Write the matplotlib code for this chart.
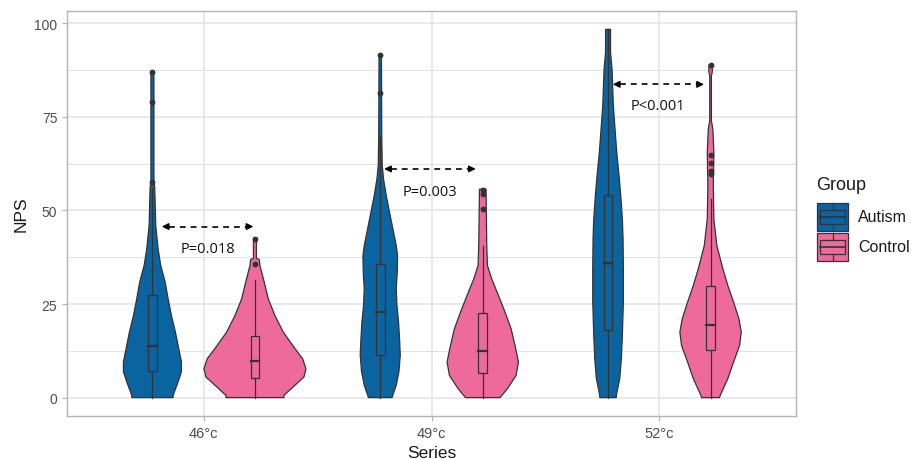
import matplotlib
matplotlib.use("Agg")
import matplotlib.pyplot as plt
import numpy as np
from matplotlib.patches import Rectangle
from matplotlib.lines import Line2D

# ---------------- data ----------------
categories = ["46°c", "49°c", "52°c"]
groups = ["Autism", "Control"]
colors = {"Autism": "#0A64A0", "Control": "#EE6A9B"}

# violin profiles: NPS levels and relative density (half-width)
a46_y = [0, 0.6, 4.2, 6.9, 9.6, 13.1, 17.5, 21.9, 26.4, 30.9, 35.3, 39.7, 46, 56.3, 57.5, 70, 87]
a46_d = [20.7, 20.7, 25.7, 29, 29, 26.3, 23, 19, 15.7, 12.7, 8.3, 5.7, 3.3, 2.3, 1.5, 1.5, 1.5]
c46_y = [0, 0.6, 3.3, 5.5, 7.7, 10.4, 13.1, 17.5, 21.9, 26.4, 30.8, 35.3, 36.9, 37.2, 42.6]
c46_d = [29, 29, 40, 49, 51, 47.7, 40, 28.3, 20, 13.3, 9.3, 5, 4.3, 1.5, 1.5]
a49_y = [0, 0.2, 3.3, 6.9, 11.3, 15.7, 20.2, 24.6, 29, 33.5, 37.9, 40.6, 45, 49.5, 54, 58.4, 62, 70, 91.6]
a49_d = [12, 12, 16, 18.7, 20, 19.3, 18.3, 16.7, 16, 17, 17.3, 16, 12.7, 9.3, 6, 3.3, 2, 1.5, 1.2]
c49_y = [0, 2.4, 5.9, 9.5, 13.9, 18.4, 22.8, 27.3, 31.7, 35.3, 40.6, 55.7]
c49_d = [17.3, 24.7, 33.3, 35.7, 32.3, 28.3, 22.3, 15.7, 9, 4.7, 4, 3.3]
a52_y = [0, 0.6, 5.1, 10.4, 16.6, 25.5, 34.4, 42.4, 47.7, 54, 59.3, 65.5, 71.7, 78, 87.7, 92.2, 98.4]
a52_d = [8.3, 8.3, 11.7, 13.3, 14.3, 15.3, 15.3, 15, 14.3, 12.7, 11, 8.7, 7, 5.3, 4, 2.5, 2.5]
c52_y = [0, 0.6, 5.1, 9.5, 13.9, 17.5, 21.1, 25.5, 29.9, 34.4, 40.6, 47.7, 56.6, 65.5, 71.7, 74, 86, 87, 88.9]
c52_d = [9, 9.7, 17.3, 23, 29, 30.7, 28.3, 23, 17.3, 12.3, 6.3, 3.3, 2.7, 3.3, 2.3, 0.8, 0.8, 1.7, 1.7]

# box statistics: (q1, median, q3, whisker low, whisker high)
a46_box = (7.0, 13.7, 27.3, 0, 56)
c46_box = (5.2, 9.8, 16.4, 0, 31.3)
a49_box = (11.5, 22.8, 35.7, 0, 70)
c49_box = (6.6, 12.4, 22.7, 0, 40.6)
a52_box = (18, 35.9, 54, 0, 98.4)
c52_box = (12.8, 19.5, 29.7, 0, 53)

a46_out = [57.5, 79, 87]
c46_out = [35.7, 42.4]
a49_out = [81.5, 91.6]
c49_out = [50.4, 54.4, 55.5]
a52_out = []
c52_out = [59.7, 60.6, 62.6, 64.8, 88.9]

# significance annotations
p_labels = ["P=0.018", "P=0.003", "P<0.001"]
p_arrow_y = [45.7, 61.1, 83.7]
p_arrow_x0 = [0.816, 1.792, 2.796]
p_arrow_x1 = [1.218, 2.194, 3.196]
p_text_y = [39.9, 55.1, 78.0]

violins = {
    ("Autism", 0): (a46_y, a46_d, a46_box, a46_out),
    ("Control", 0): (c46_y, c46_d, c46_box, c46_out),
    ("Autism", 1): (a49_y, a49_d, a49_box, a49_out),
    ("Control", 1): (c49_y, c49_d, c49_box, c49_out),
    ("Autism", 2): (a52_y, a52_d, a52_box, a52_out),
    ("Control", 2): (c52_y, c52_d, c52_box, c52_out),
}

# ---------------- style ----------------
plt.rcParams["font.family"] = ["Liberation Sans", "DejaVu Sans"]
OUT = "#333333"
GRID = "#E3E3E3"
BORDER = "#B3B3B3"
TXT = "#4D4D4D"
dodge = 0.225
dens_scale = 1 / 227.8
box_half = 0.019

fig = plt.figure(figsize=(9.11, 4.60), dpi=100)
ax = fig.add_axes([67 / 911, 43 / 460, 729 / 911, 405 / 460])
ax.set_xlim(0.4, 3.6)
ax.set_ylim(-4.92, 103.3)

ax.set_yticks([0, 25, 50, 75, 100])
ax.set_yticks([12.5, 37.5, 62.5, 87.5], minor=True)
ax.set_xticks([1, 2, 3])
ax.set_xticklabels(categories)
ax.grid(True, which="major", color=GRID, lw=1.1, zorder=0)
ax.grid(True, which="minor", axis="y", color=GRID, lw=0.7, zorder=0)
ax.set_axisbelow(True)
for s in ax.spines.values():
    s.set_color(BORDER)
    s.set_linewidth(1.0)
ax.tick_params(axis="both", which="major", colors=BORDER, length=3.5, width=0.8,
               labelcolor=TXT, labelsize=10)
ax.tick_params(axis="x", which="major", labelsize=10.5)
ax.tick_params(axis="both", which="minor", length=0)
ax.set_xlabel("Series", fontsize=12.5, color="#1A1A1A", labelpad=3.5)
ax.set_ylabel("NPS", fontsize=12.5, color="#1A1A1A", labelpad=4)

for (g, i), (ys, ds, box, outs) in violins.items():
    xc = (i + 1) + (-dodge if g == "Autism" else dodge)
    ys = np.asarray(ys, float)
    hw = np.asarray(ds, float) * dens_scale
    xs = np.concatenate([xc - hw, (xc + hw)[::-1]])
    yy = np.concatenate([ys, ys[::-1]])
    ax.fill(xs, yy, facecolor=colors[g], edgecolor=OUT, lw=0.9, zorder=2)
    q1, med, q3, wlo, whi = box
    ax.plot([xc, xc], [wlo, q1], color=OUT, lw=0.9, zorder=3)
    ax.plot([xc, xc], [q3, whi], color=OUT, lw=0.9, zorder=3)
    ax.add_patch(Rectangle((xc - box_half, q1), 2 * box_half, q3 - q1,
                           facecolor="none", edgecolor=OUT, lw=0.9, zorder=3))
    ax.plot([xc - box_half, xc + box_half], [med, med], color=OUT, lw=1.6, zorder=3)
    if outs:
        ax.plot([xc] * len(outs), outs, "o", color=OUT, ms=4.2, mec="none", zorder=4)

for lab, ya, x0, x1, yt in zip(p_labels, p_arrow_y, p_arrow_x0, p_arrow_x1, p_text_y):
    d = 0.03
    ax.plot([x0 + d, x1 - d], [ya, ya], color="black", lw=1.2, ls=(0, (3.5, 3)), zorder=5)
    ax.annotate("", xy=(x0, ya), xytext=(x0 + d, ya),
                arrowprops=dict(arrowstyle="-|>", color="black", lw=1.0, mutation_scale=10,
                                shrinkA=0, shrinkB=0), zorder=5)
    ax.annotate("", xy=(x1, ya), xytext=(x1 - d, ya),
                arrowprops=dict(arrowstyle="-|>", color="black", lw=1.0, mutation_scale=10,
                                shrinkA=0, shrinkB=0), zorder=5)
    ax.text((x0 + x1) / 2, yt, lab, ha="center", va="center", fontsize=10.5,
            family=["Open Sans", "DejaVu Sans"], color="#111111", zorder=5)

# ---------------- legend ----------------
W, H = 911, 460
def fx(px):
    return px / W
def fy(py):
    return 1 - py / H

fig.text(fx(816), fy(185), "Group", fontsize=13, color="#1A1A1A", va="center", ha="left")
key_x0, key_x1 = 817, 848
key_rows = [(204, 232), (234, 262)]
for g, (t, b) in zip(groups, key_rows):
    fig.add_artist(Rectangle((fx(key_x0), fy(b)), fx(key_x1) - fx(key_x0), fy(t) - fy(b),
                             transform=fig.transFigure, facecolor=colors[g], edgecolor=OUT, lw=0.9))
    kh = b - t
    kw = key_x1 - key_x0
    bx0, bx1 = key_x0 + 0.1 * kw, key_x1 - 0.1 * kw
    by0, by1 = t + 0.25 * kh, t + 0.75 * kh
    fig.add_artist(Rectangle((fx(bx0), fy(by1)), fx(bx1) - fx(bx0), fy(by0) - fy(by1),
                             transform=fig.transFigure, facecolor="none", edgecolor=OUT, lw=0.9))
    xm = (key_x0 + key_x1) / 2
    fig.add_artist(Line2D([fx(bx0), fx(bx1)], [fy(t + 0.5 * kh)] * 2, transform=fig.transFigure,
                          color=OUT, lw=1.2))
    fig.add_artist(Line2D([fx(xm)] * 2, [fy(t), fy(by0)], transform=fig.transFigure, color=OUT, lw=0.9))
    fig.add_artist(Line2D([fx(xm)] * 2, [fy(by1), fy(b)], transform=fig.transFigure, color=OUT, lw=0.9))
    fig.text(fx(858), fy((t + b) / 2), g, fontsize=11.5, color="#1A1A1A", va="center", ha="left")

fig.savefig("out.png", dpi=100)
